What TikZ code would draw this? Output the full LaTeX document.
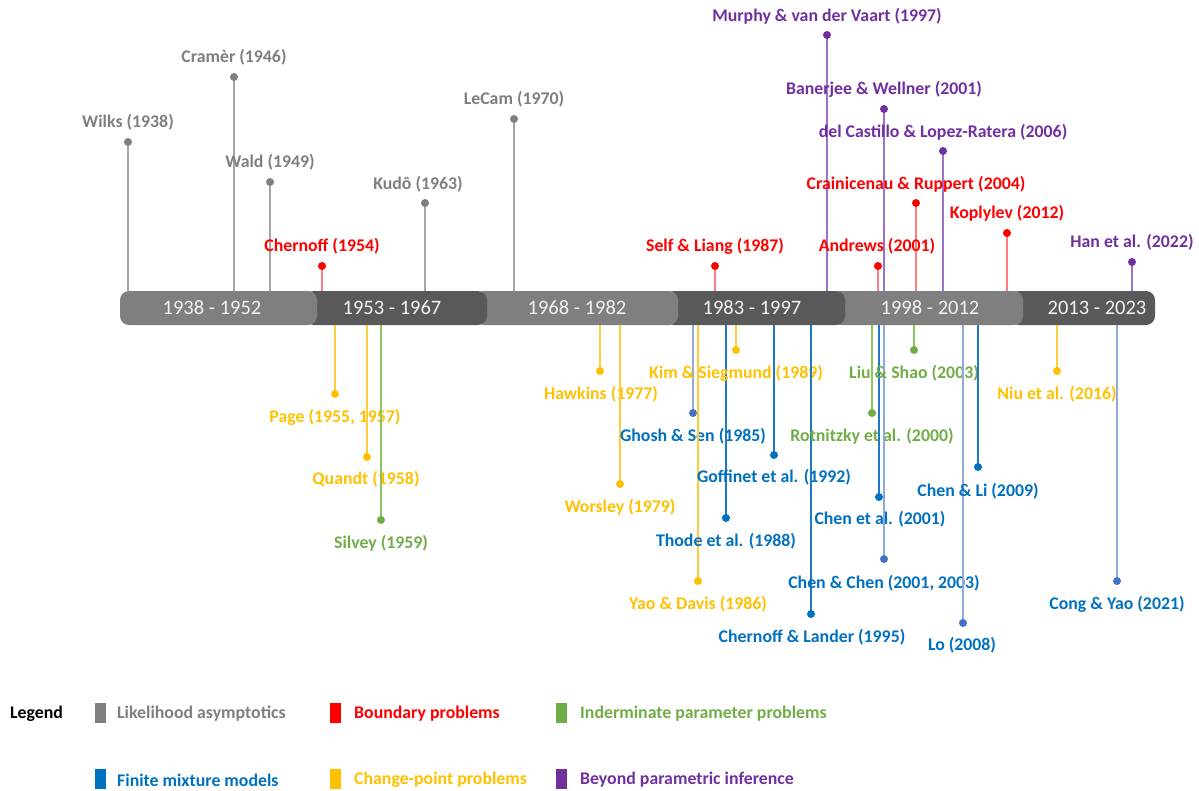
\documentclass[tikz,border=0pt]{standalone}
\usepackage{fontspec}
\setmainfont{Carlito}
\definecolor{barlight}{HTML}{7F7F7F}
\definecolor{bardark}{HTML}{595959}
\definecolor{bartext}{HTML}{F2F2F2}
\definecolor{gtxt}{HTML}{7F7F7F}\definecolor{gdot}{HTML}{7F7F7F}\definecolor{gstem}{HTML}{A6A6A6}
\definecolor{rtxt}{HTML}{FF0000}\definecolor{rdot}{HTML}{FF0000}\definecolor{rstem}{HTML}{FF7C80}
\definecolor{ptxt}{HTML}{7030A0}\definecolor{pdot}{HTML}{7030A0}\definecolor{pstem}{HTML}{9B72C8}
\definecolor{ytxt}{HTML}{FFC000}\definecolor{ydot}{HTML}{FFC000}\definecolor{ystem}{HTML}{FFCD3A}
\definecolor{vtxt}{HTML}{70AD47}\definecolor{vdot}{HTML}{70AD47}\definecolor{vstem}{HTML}{8CC45F}
\definecolor{btxt}{HTML}{0070C0}\definecolor{bdot}{HTML}{0070C0}\definecolor{bstem}{HTML}{1F78C8}
\definecolor{ctxt}{HTML}{0070C0}\definecolor{cdot}{HTML}{4472C4}\definecolor{cstem}{HTML}{8FAADC}
\pgfdeclarelayer{fg}
\pgfsetlayers{main,fg}
\tikzset{
  seglight/.style={fill=barlight, rounded corners=9pt, minimum height=34pt, inner sep=0pt},
  segdark/.style={fill=bardark, rounded corners=9pt, minimum height=34pt, inner sep=0pt},
  yeartext/.style={text=bartext, font=\fontsize{20.5}{24}\selectfont, inner sep=0pt},
  lbl/.style={font=\bfseries\fontsize{17.8}{21}\selectfont, inner sep=0pt},
  dotnode/.style={circle, minimum size=8pt, inner sep=0pt},
  stem/.style={line width=1.5pt},
  legsq/.style={minimum width=11pt, minimum height=20pt, inner sep=0pt},
  legtxt/.style={font=\bfseries\fontsize{17.8}{21}\selectfont, anchor=west, inner sep=0pt}
}
% #1 name, #2 colour prefix, #3 x, #4 dot y, #5 label x, #6 label y, #7 text, #8 bar edge
\newcommand\tlevent[8]{%
  \node[lbl, text=#2txt] (#1l) at (#5,#6) {#7};
  \begin{pgfonlayer}{fg}
    \node[dotnode, fill=#2dot] (#1) at (#3,#4) {};
  \end{pgfonlayer}
  \draw[stem, draw=#2stem] (#1.center) -- (#1 |- #8);
}
\begin{document}
\begin{tikzpicture}[x=1pt, y=-1pt]
\useasboundingbox (0,0) rectangle (1199,790);
\coordinate (bartop) at (0,291);
\coordinate (barbot) at (0,325);

% bar segments (right to left so each left one overlaps)
\node[segdark, minimum width=145pt] (s6) at (1082.5,308) {};
\node[seglight, minimum width=191pt] (s5) at (927.5,308) {};
\node[segdark, minimum width=180pt] (s4) at (755,308) {};
\node[seglight, minimum width=203pt] (s3) at (576.5,308) {};
\node[segdark, minimum width=182pt] (s2) at (396,308) {};
\node[seglight, minimum width=197pt] (s1) at (218.5,308) {};
\node[yeartext] (y1) at (212,308) {1938 - 1952};
\node[yeartext] (y2) at (392,308) {1953 - 1967};
\node[yeartext] (y3) at (577,308) {1968 - 1982};
\node[yeartext] (y4) at (752,308) {1983 - 1997};
\node[yeartext] (y5) at (930,308) {1998 - 2012};
\node[yeartext] (y6) at (1097,308) {2013 - 2023};

% above the bar
\tlevent{wilks}{g}{128}{142}{128}{122}{Wilks (1938)}{bartop}
\tlevent{cramer}{g}{234}{77}{234}{57}{Cramèr (1946)}{bartop}
\tlevent{wald}{g}{270}{182}{270}{162}{Wald (1949)}{bartop}
\tlevent{chernoff}{r}{322}{266}{322}{246}{Chernoff (1954)}{bartop}
\tlevent{kudo}{g}{425}{203}{418}{184}{Kudô (1963)}{bartop}
\tlevent{lecam}{g}{514}{119}{514}{99}{LeCam (1970)}{bartop}
\tlevent{self}{r}{715}{266}{715}{246}{Self \& Liang (1987)}{bartop}
\tlevent{murphy}{p}{827}{35}{827}{16}{Murphy \& van der Vaart (1997)}{bartop}
\tlevent{banerjee}{p}{884}{109}{884}{89}{Banerjee \& Wellner (2001)}{bartop}
\tlevent{castillo}{p}{943}{151}{943}{132}{del Castillo \& Lopez-Ratera (2006)}{bartop}
\tlevent{crain}{r}{916}{203}{916}{184}{Crainicenau \& Ruppert (2004)}{bartop}
\tlevent{kopl}{r}{1007}{233}{1007}{213}{Koplylev (2012)}{bartop}
\tlevent{andrews}{r}{878}{266}{877}{246}{Andrews (2001)}{bartop}
\tlevent{han}{p}{1132}{262}{1132}{242}{Han et al. (2022)}{bartop}

% below the bar
\tlevent{page}{y}{335}{394}{335}{417}{Page (1955, 1957)}{barbot}
\tlevent{quandt}{y}{367}{457}{366}{479}{Quandt (1958)}{barbot}
\tlevent{silvey}{v}{381}{520}{381}{543}{Silvey (1959)}{barbot}
\tlevent{hawkins}{y}{600}{371}{601}{394}{Hawkins (1977)}{barbot}
\tlevent{worsley}{y}{620}{484}{620}{507}{Worsley (1979)}{barbot}
\tlevent{ghosh}{c}{693}{413}{693}{436}{Ghosh \& Sen (1985)}{barbot}
\tlevent{yao}{y}{698}{581}{698}{604}{Yao \& Davis (1986)}{barbot}
\tlevent{thode}{b}{726}{518}{726}{541}{Thode et al. (1988)}{barbot}
\tlevent{kim}{y}{736}{350}{736}{373}{Kim \& Siegmund (1989)}{barbot}
\tlevent{goff}{b}{774}{455}{774}{477}{Goffinet et al. (1992)}{barbot}
\tlevent{lander}{b}{811}{614}{812}{637}{Chernoff \& Lander (1995)}{barbot}
\tlevent{rotn}{v}{872}{413}{872}{436}{Rotnitzky et al. (2000)}{barbot}
\tlevent{chenal}{b}{879}{497}{880}{519}{Chen et al. (2001)}{barbot}
\tlevent{chenchen}{c}{884}{559}{884}{583}{Chen \& Chen (2001, 2003)}{barbot}
\tlevent{liu}{v}{914}{350}{914}{373}{Liu \& Shao (2003)}{barbot}
\tlevent{lo}{c}{963}{623}{962}{645}{Lo (2008)}{barbot}
\tlevent{chenli}{b}{978}{467}{978}{491}{Chen \& Li (2009)}{barbot}
\tlevent{niu}{y}{1057}{371}{1057}{394}{Niu et al. (2016)}{barbot}
\tlevent{cong}{c}{1117}{581}{1117}{604}{Cong \& Yao (2021)}{barbot}

% legend
\node[legtxt, text=black] (legend) at (10,714) {Legend};
\node[legsq, fill=gdot] (lq1) at (100.5,713) {};
\node[legtxt, text=gtxt] (lt1) at (117,714) {Likelihood asymptotics};
\node[legsq, fill=rdot] (lq2) at (335.5,713) {};
\node[legtxt, text=rtxt] (lt2) at (354,714) {Boundary problems};
\node[legsq, fill=vdot] (lq3) at (561.5,713) {};
\node[legtxt, text=vtxt] (lt3) at (580,714) {Inderminate parameter problems};
\node[legsq, fill=bdot] (lq4) at (100.5,779) {};
\node[legtxt, text=btxt] (lt4) at (117,780) {Finite mixture models};
\node[legsq, fill=ydot] (lq5) at (335.5,779) {};
\node[legtxt, text=ytxt] (lt5) at (354,780) {Change-point problems};
\node[legsq, fill=pdot] (lq6) at (561.5,779) {};
\node[legtxt, text=ptxt] (lt6) at (580,780) {Beyond parametric inference};
\end{tikzpicture}
\end{document}
